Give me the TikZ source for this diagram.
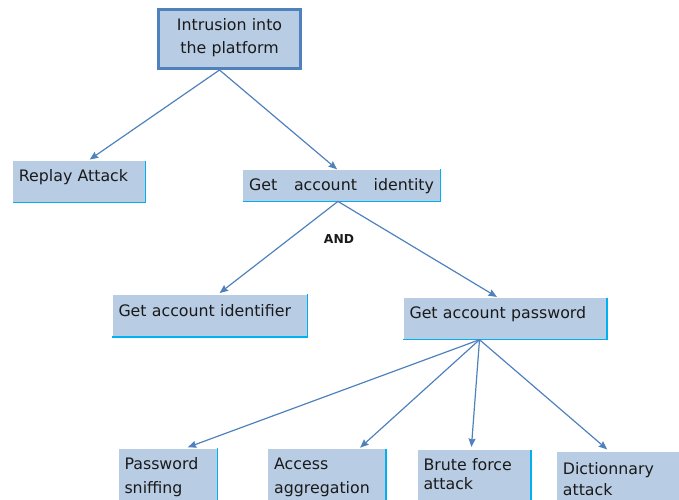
\documentclass[tikz,border=0pt]{standalone}
\usepackage{fontspec}
\setmainfont{DejaVu Sans}
\usepackage{tikz}
\usetikzlibrary{arrows.meta}
\usetikzlibrary{positioning}
\definecolor{boxfill}{HTML}{B8CCE4}
\definecolor{rimcyan}{HTML}{00B0F0}
\definecolor{linkblue}{HTML}{4F81BD}
\definecolor{inkgray}{HTML}{1A1A1A}
\tikzset{
  leafbox/.style={rectangle,fill=boxfill,text=inkgray,anchor=north west,inner xsep=6pt,inner ysep=0pt,align=left,text height=12pt,font=\fontsize{15.8}{24}\selectfont},
  rootbox/.style={rectangle,fill=boxfill,text=inkgray,draw=linkblue,line width=2.7pt,inner sep=0pt,align=center,text height=12pt,font=\fontsize{15.8}{22.6}\selectfont},
  rimline/.style={draw=rimcyan,line width=1.3pt},
  link/.style={draw=linkblue,line width=1.2pt,-{Stealth[length=8.5pt,width=7pt,inset=1pt]}}
}
\begin{document}
\begin{tikzpicture}[x=1pt,y=-1pt]
\useasboundingbox (0,0) rectangle (679,499);
\clip (0,0) rectangle (679,499);
\node[rootbox,minimum width=141.7pt,minimum height=59pt,text width=130pt,text depth=28.9pt](intrusion) at (229.5,39.15){Intrusion into\\the platform};
\node[leafbox,minimum width=132.3pt,minimum height=41.6pt,text width=120.3pt,text depth=13pt](replay) at (12.7,160.7){Replay Attack};
\node[leafbox,align=center,minimum width=197.3pt,minimum height=31.7pt,text width=185.3pt,text depth=1pt](identity) at (242.7,169.3){Get\hspace{11.5pt} account\hspace{11.5pt} identity};
\node[font=\fontsize{12.3}{14}\selectfont\bfseries,text=inkgray,inner sep=0pt,anchor=base](and) at (339,243.3){AND};
\node[leafbox,minimum width=195pt,minimum height=42.4pt,text width=183pt,text depth=11pt](identifier) at (112.3,294.3){Get account identifier};
\node[leafbox,minimum width=203.4pt,minimum height=41.6pt,text width=191.4pt,text depth=12.4pt](password) at (403.3,297.7){Get account password};
\node[leafbox,minimum width=99pt,minimum height=70pt,text width=87pt,text depth=40.6pt](sniffing) at (118.3,448.3){Password\\sniffing};
\node[leafbox,minimum width=117.5pt,minimum height=70pt,text width=105.5pt,text depth=41pt](aggregation) at (268,449){Access\\aggregation};
\node[leafbox,font=\fontsize{15.8}{18.6}\selectfont,minimum width=113.4pt,minimum height=70pt,text width=101.4pt,text depth=40.6pt](brute) at (417.3,450){Brute force\\attack};
\node[leafbox,font=\fontsize{15.8}{21}\selectfont,minimum width=140pt,minimum height=70pt,text width=128pt,text depth=37.4pt](dictionary) at (556.7,452){Dictionnary\\attack};
\foreach \n in {replay,identity,identifier,password,sniffing,aggregation,brute,dictionary}
  \draw[rimline] (\n.north east) |- (\n.south west);
\coordinate (fork) at ([xshift=-25.7pt]password.south);
\draw[link,shorten >=2pt] ([xshift=-10pt]intrusion.south) -- ([xshift=9pt]replay.north);
\draw[link] ([xshift=-10pt]intrusion.south) -- ([xshift=-4.5pt]identity.north);
\draw[link,shorten >=2pt] ([xshift=-3.6pt]identity.south) -- ([xshift=8pt]identifier.north);
\draw[link,shorten >=1.5pt] ([xshift=-3.6pt]identity.south) -- ([xshift=-7pt]password.north);
\draw[link,shorten >=3pt] (fork) -- ([xshift=17pt]sniffing.north);
\draw[link,shorten >=2pt] (fork) -- ([xshift=31.7pt]aggregation.north);
\draw[link,shorten >=3pt] (fork) -- ([xshift=-3pt]brute.north);
\draw[link,shorten >=4pt] (fork) -- ([xshift=-16.7pt]dictionary.north);
\end{tikzpicture}
\end{document}
